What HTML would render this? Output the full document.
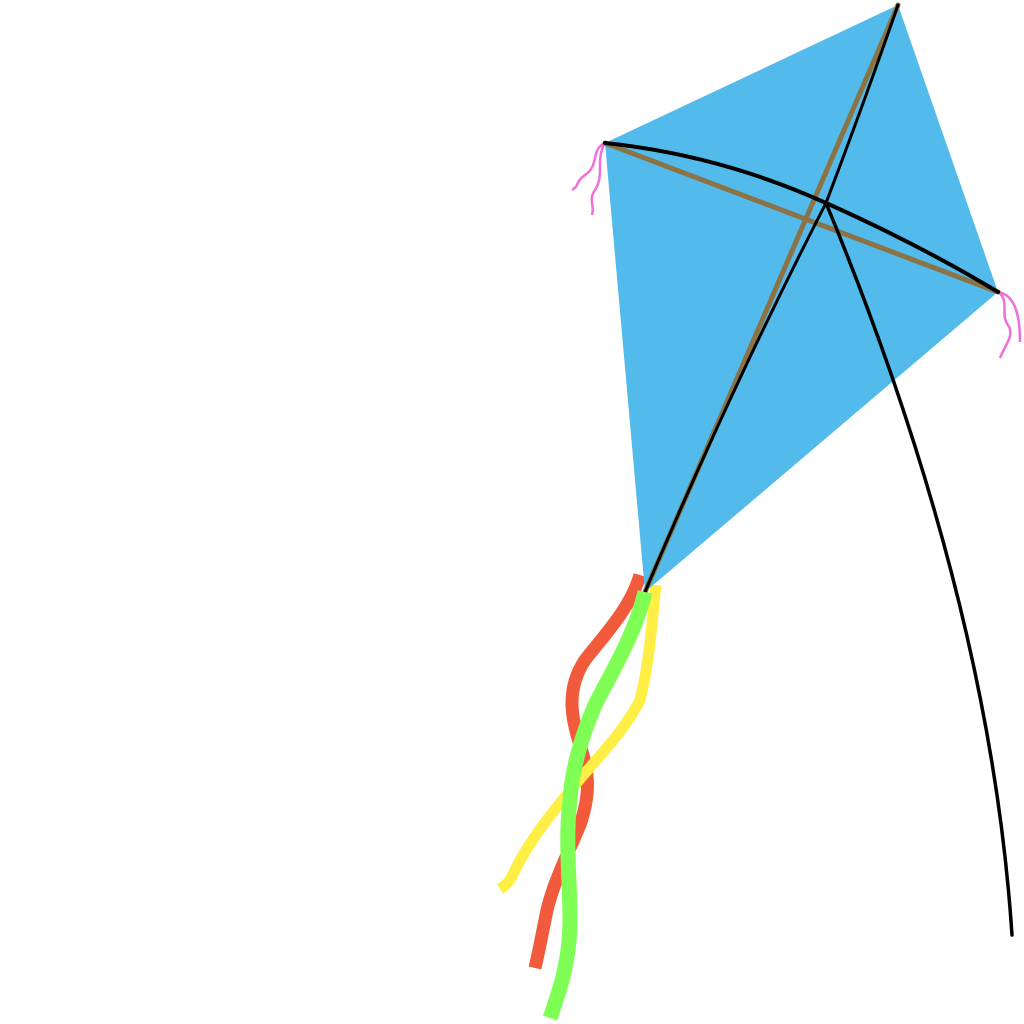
<!DOCTYPE html>
<html><head><style>html,body{margin:0;padding:0;background:#fff}svg{display:block}</style></head>
<body>
<svg width="1024" height="1024" viewBox="0 0 1024 1024" xmlns="http://www.w3.org/2000/svg">
<rect width="1024" height="1024" fill="#fff"/>
<path d="M640,575 C630,610 600,640 585,660 C565,690 572,720 580,745 C590,775 590,795 580,825 C565,860 550,890 545,920 C540,945 538,955 535,968" fill="none" stroke="#F15A3A" stroke-width="13"/>
<path d="M656,585 C652,620 650,660 640,700 C625,730 600,755 575,785 C550,815 530,840 515,870 C510,882 505,886 500,889" fill="none" stroke="#FFEE44" stroke-width="11"/>
<polygon points="898,5 998,292 645,592 605,143" fill="#52BBEC"/>
<path d="M605,143 C590,150 600,165 585,175 C575,182 580,185 572,190 M605,143 C595,160 605,175 595,190 C588,200 595,205 592,215" fill="none" stroke="#F06FD8" stroke-width="2.5"/>
<path d="M998,292 C1010,300 1000,315 1008,325 C1015,335 1005,345 1000,358 M998,292 C1015,295 1020,315 1020,342" fill="none" stroke="#F06FD8" stroke-width="2.5"/>
<line x1="898" y1="5" x2="645" y2="592" stroke="#8B7345" stroke-width="5" stroke-linecap="round"/>
<line x1="605" y1="143" x2="998" y2="292" stroke="#8B7345" stroke-width="5" stroke-linecap="round"/>
<path d="M605,143 Q720,155 826,203 Q920,245 998,292" fill="none" stroke="#000" stroke-width="4" stroke-linecap="round"/>
<path d="M898,5 Q865,100 826,203 Q730,390 645,592" fill="none" stroke="#000" stroke-width="3" stroke-linecap="round"/>
<path d="M826,203 Q990,600 1012,935" fill="none" stroke="#000" stroke-width="3.5" stroke-linecap="round"/>
<path d="M645,592 C635,635 610,675 595,705 C580,740 572,770 570,800 C565,840 570,880 570,920 C570,960 560,990 550,1018" fill="none" stroke="#7FFF55" stroke-width="15"/>
</svg>
</body></html>
